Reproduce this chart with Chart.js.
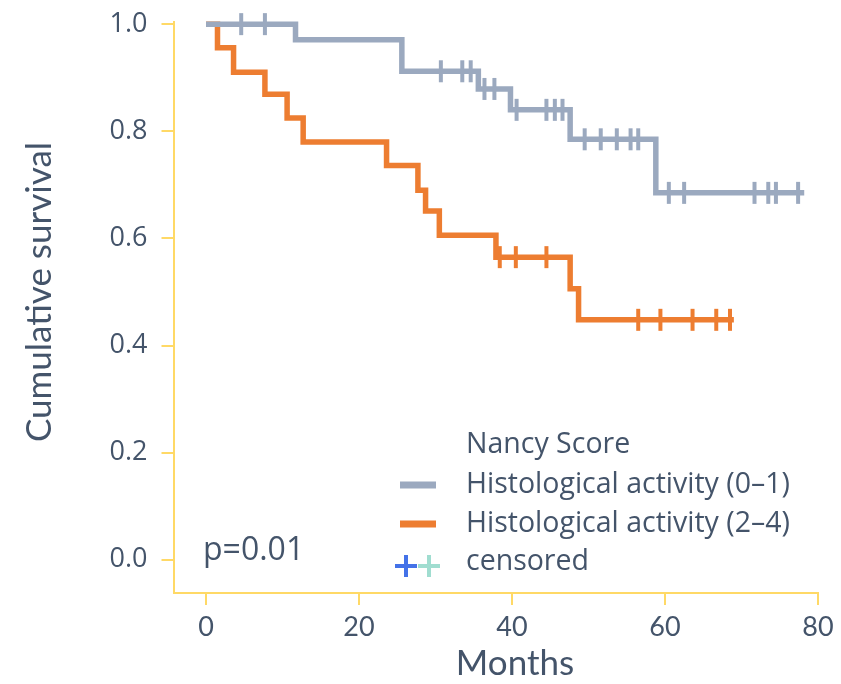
<!DOCTYPE html>
<html>
<head>
<meta charset="utf-8">
<script src="https://cdn.jsdelivr.net/npm/chart.js@4.4.0/dist/chart.umd.min.js"></script>
<style>
html, body { margin: 0; padding: 0; background: #fff; }
#wrap { width: 841px; height: 684px; }
</style>
</head>
<body>
<div id="wrap"><canvas id="kmChart" width="841" height="684"></canvas></div>
<script>
const xTicks = [0, 20, 40, 60, 80];
const yTicks = [0, 0.2, 0.4, 0.6, 0.8, 1.0];

// Histological activity (0–1)
const lowTimes = [0, 11.7, 25.6, 35.6, 39.8, 47.6, 58.8, 78.2];
const lowSurv  = [1.0, 0.971, 0.912, 0.879, 0.840, 0.785, 0.685, 0.685];
const lowCensTimes = [4.6, 7.7, 30.7, 33.5, 34.6, 36.4, 37.7, 40.6, 44.5, 45.6, 46.6,
                      49.5, 51.6, 53.7, 55.5, 56.5, 60.5, 62.5, 71.7, 73.5, 74.5, 77.4];
const lowCensSurv  = [1.0, 1.0, 0.912, 0.912, 0.912, 0.879, 0.879, 0.840, 0.840, 0.840, 0.840,
                      0.785, 0.785, 0.785, 0.785, 0.785, 0.685, 0.685, 0.685, 0.685, 0.685, 0.685];

// Histological activity (2–4)
const highTimes = [0, 1.5, 3.6, 7.7, 10.6, 12.7, 23.6, 27.7, 28.7, 30.5, 37.9, 47.6, 48.7, 69.0];
const highSurv  = [1.0, 0.956, 0.910, 0.869, 0.825, 0.780, 0.736, 0.690, 0.651, 0.606, 0.565, 0.506, 0.448, 0.448];
const highCensTimes = [38.4, 40.5, 44.5, 56.5, 59.4, 63.6, 66.7, 68.5];
const highCensSurv  = [0.565, 0.565, 0.565, 0.448, 0.448, 0.448, 0.448, 0.448];

const xTitle = 'Months';
const yTitle = 'Cumulative survival';
const legendTitle = 'Nancy Score';
const legendLabels = ['Histological activity (0–1)', 'Histological activity (2–4)', 'censored'];
const pText = 'p=0.01';

const TEXT = '#44546A';
const GREY = '#9BA9BF';
const ORANGE = '#ED7D31';
const AXIS = '#FFD966';

function pts(xs, ys) {
    return xs.map((x, i) => ({ x: x, y: ys[i] }));
}

// axis titles, legend and p value drawn on the canvas
const annotations = {
    id: 'annotations',
    afterDraw(chart) {
        const ctx = chart.ctx;
        ctx.save();
        ctx.fillStyle = TEXT;
        ctx.textBaseline = 'middle';

        ctx.textAlign = 'center';
        ctx.font = '35px Lato';
        ctx.fillText(xTitle, 515, 664);
        ctx.save();
        ctx.translate(40, 292);
        ctx.rotate(-Math.PI / 2);
        ctx.fillText(yTitle, 0, 0);
        ctx.restore();

        ctx.textAlign = 'left';
        ctx.font = '28.5px "Open Sans"';
        ctx.fillText(legendTitle, 466, 445);
        ctx.fillText(legendLabels[0], 466, 485);
        ctx.fillText(legendLabels[1], 466, 524);
        ctx.fillText(legendLabels[2], 466, 562);
        ctx.font = '32px "Open Sans"';
        ctx.fillText(pText, 203, 551);

        ctx.lineWidth = 7;
        ctx.strokeStyle = GREY;
        ctx.beginPath(); ctx.moveTo(400, 485); ctx.lineTo(436, 485); ctx.stroke();
        ctx.strokeStyle = ORANGE;
        ctx.beginPath(); ctx.moveTo(400, 524); ctx.lineTo(436, 524); ctx.stroke();

        ctx.lineWidth = 4;
        const plus = (cx, color) => {
            ctx.strokeStyle = color;
            ctx.beginPath();
            ctx.moveTo(cx - 11, 566); ctx.lineTo(cx + 11, 566);
            ctx.moveTo(cx, 555); ctx.lineTo(cx, 577);
            ctx.stroke();
        };
        plus(406, '#4472E8');
        plus(429, '#A0DDD0');
        ctx.restore();
    }
};

const ctx = document.getElementById('kmChart').getContext('2d');

new Chart(ctx, {
    type: 'line',
    data: {
        datasets: [
            {
                label: legendLabels[0],
                data: pts(lowTimes, lowSurv),
                stepped: true,
                borderColor: GREY,
                borderWidth: 5.5,
                pointRadius: 0,
                fill: false,
                clip: false
            },
            {
                type: 'scatter',
                label: 'censored (0–1)',
                data: pts(lowCensTimes, lowCensSurv),
                pointStyle: 'line',
                rotation: 90,
                pointRadius: 11,
                borderWidth: 4,
                borderColor: GREY,
                showLine: false,
                clip: false
            },
            {
                label: legendLabels[1],
                data: pts(highTimes, highSurv),
                stepped: true,
                borderColor: ORANGE,
                borderWidth: 5.5,
                pointRadius: 0,
                fill: false,
                clip: false
            },
            {
                type: 'scatter',
                label: 'censored (2–4)',
                data: pts(highCensTimes, highCensSurv),
                pointStyle: 'line',
                rotation: 90,
                pointRadius: 11,
                borderWidth: 4,
                borderColor: ORANGE,
                showLine: false,
                clip: false
            }
        ]
    },
    options: {
        responsive: false,
        animation: false,
        devicePixelRatio: 1,
        events: [],
        layout: { padding: { top: 22, right: 23, left: 0, bottom: 0 } },
        scales: {
            x: {
                type: 'linear',
                min: -4.25,
                max: 80,
                afterBuildTicks: (s) => { s.ticks = xTicks.map(v => ({ value: v })); },
                afterFit: (s) => {
                    s.height = 91;
                    s.paddingLeft = 0;
                    s.paddingRight = 0;
                },
                grid: { drawOnChartArea: false, color: AXIS, lineWidth: 2, tickLength: 12 },
                border: { color: AXIS, width: 2 },
                ticks: {
                    color: TEXT,
                    padding: 6,
                    maxRotation: 0,
                    font: { family: 'Lato', size: 27 }
                }
            },
            y: {
                type: 'linear',
                min: -0.062,
                max: 1.004,
                afterBuildTicks: (s) => { s.ticks = yTicks.map(v => ({ value: v })); },
                afterFit: (s) => {
                    s.width = 173.5;
                    s.paddingTop = 0;
                    s.paddingBottom = 0;
                },
                grid: { drawOnChartArea: false, color: AXIS, lineWidth: 2, tickLength: 12 },
                border: { color: AXIS, width: 2 },
                ticks: {
                    color: TEXT,
                    padding: 14,
                    font: { family: 'Open Sans', size: 27 },
                    callback: (v) => v.toFixed(1)
                }
            }
        },
        plugins: {
            legend: { display: false },
            tooltip: { enabled: false }
        }
    },
    plugins: [annotations]
});
</script>
</body>
</html>
